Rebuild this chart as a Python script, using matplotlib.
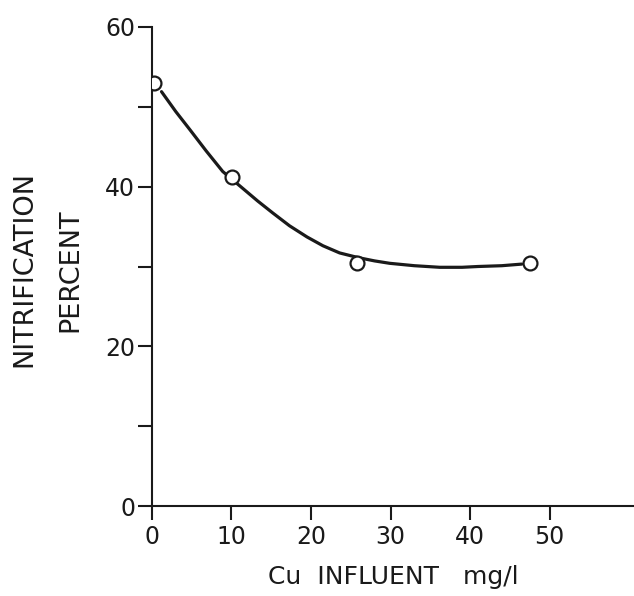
import numpy as np
import matplotlib.pyplot as plt

# measured points (open circles)
cu_pts = [0.2, 10.1, 25.8, 47.6]
nit_pts = [53.0, 41.2, 30.4, 30.4]

# hand-drawn trend curve
cu_curve = [1.2, 3.0, 4.8, 6.8, 8.9, 11.4, 13.3, 15.2, 17.3, 19.5, 21.5,
            23.6, 26.0, 28.0, 29.9, 33.0, 36.2, 39.0, 41.0, 44.0, 46.5]
nit_curve = [51.9, 49.4, 47.1, 44.5, 41.9, 39.8, 38.2, 36.7, 35.1, 33.7, 32.6,
             31.7, 31.1, 30.7, 30.4, 30.1, 29.9, 29.9, 30.0, 30.1, 30.3]

fig = plt.figure(figsize=(6.34, 5.96), dpi=100)
ax = fig.add_axes([0.2397, 0.151, 0.760, 0.8037])

# curve then markers on top
ax.plot(cu_curve, nit_curve, color='#1a1a1a', lw=2.3, solid_capstyle='round', zorder=2)
ax.plot(cu_pts, nit_pts, 'o', ms=10, mfc='white', mec='#1a1a1a', mew=1.6, zorder=3)

ax.set_xlim(0, 60.6)
ax.set_ylim(0, 60)

for s in ['top', 'right']:
    ax.spines[s].set_visible(False)
for s in ['left', 'bottom']:
    ax.spines[s].set_linewidth(1.5)
    ax.spines[s].set_color('#1a1a1a')

ax.set_xticks([0, 10, 20, 30, 40, 50])
ax.set_yticks([0, 20, 40, 60])
ax.set_yticks([10, 30, 50], minor=True)
ax.tick_params(axis='both', which='both', direction='out', length=10, width=1.5,
               color='#1a1a1a', labelsize=17, labelcolor='#1a1a1a')
ax.tick_params(axis='y', pad=2)
ax.tick_params(axis='x', pad=4)

# axis titles
fig.text(393 / 634, 1 - 577 / 596, 'Cu  INFLUENT   mg/l', ha='center', va='center',
         fontsize=18, color='#1a1a1a')
fig.text(24 / 634, 1 - 269 / 596, 'NITRIFICATION', rotation=90, ha='center', va='center',
         fontsize=19.5, color='#1a1a1a')
fig.text(70 / 634, 1 - 270 / 596, 'PERCENT', rotation=90, ha='center', va='center',
         fontsize=19.5, color='#1a1a1a')

fig.savefig('out.png', dpi=100)
